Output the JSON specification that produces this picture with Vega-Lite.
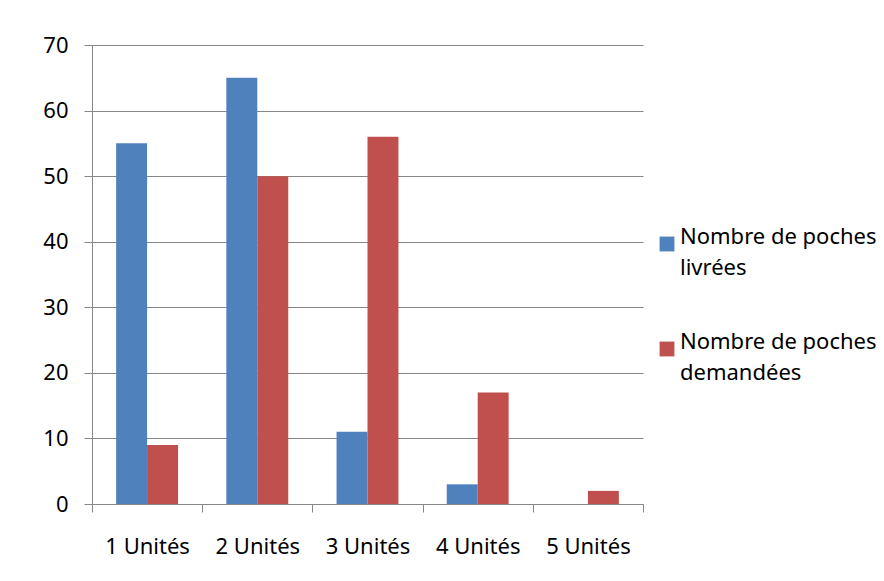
{
  "$schema": "https://vega.github.io/schema/vega-lite/v6.json",
  "width": 551,
  "height": 459,
  "autosize": {"type": "none"},
  "padding": {"left": 92, "top": 45, "right": 241, "bottom": 77},
  "background": "white",
  "data": {"values": [
    {"cat": "1 Unités", "serie": "Nombre de poches livrées", "v": 55},
    {"cat": "1 Unités", "serie": "Nombre de poches demandées", "v": 9},
    {"cat": "2 Unités", "serie": "Nombre de poches livrées", "v": 65},
    {"cat": "2 Unités", "serie": "Nombre de poches demandées", "v": 50},
    {"cat": "3 Unités", "serie": "Nombre de poches livrées", "v": 11},
    {"cat": "3 Unités", "serie": "Nombre de poches demandées", "v": 56},
    {"cat": "4 Unités", "serie": "Nombre de poches livrées", "v": 3},
    {"cat": "4 Unités", "serie": "Nombre de poches demandées", "v": 17},
    {"cat": "5 Unités", "serie": "Nombre de poches livrées", "v": 0},
    {"cat": "5 Unités", "serie": "Nombre de poches demandées", "v": 2}
  ]},
  "mark": {"type": "bar"},
  "encoding": {
    "x": {
      "field": "cat", "type": "nominal", "title": null,
      "scale": {"paddingInner": 0, "paddingOuter": 0},
      "axis": {"labelAngle": 0, "tickBand": "extent", "tickSize": 8, "labelPadding": 24, "domainColor": "#868686", "tickColor": "#868686", "labelFontSize": 22, "labelColor": "#000000", "labelFont": "Noto Sans"}
    },
    "xOffset": {
      "field": "serie", "type": "nominal",
      "sort": ["Nombre de poches livrées", "Nombre de poches demandées"],
      "scale": {"paddingInner": 0, "paddingOuter": 0.78}
    },
    "y": {
      "field": "v", "type": "quantitative", "title": null,
      "scale": {"domain": [0, 70], "nice": false},
      "axis": {"values": [0, 10, 20, 30, 40, 50, 60, 70], "tickSize": 8, "labelPadding": 16, "grid": true, "gridColor": "#868686", "domainColor": "#868686", "tickColor": "#868686", "labelFontSize": 22, "labelColor": "#000000", "labelFont": "Noto Sans"}
    },
    "color": {
      "field": "serie", "type": "nominal",
      "sort": ["Nombre de poches livrées", "Nombre de poches demandées"],
      "scale": {"range": ["#4F81BD", "#C0504D"]},
      "legend": {
        "title": null, "orient": "none", "legendX": 564, "legendY": 188,
        "symbolType": "square", "symbolSize": 220, "symbolStrokeWidth": 0,
        "labelFontSize": 22, "labelFont": "Noto Sans", "labelColor": "#000000",
        "labelExpr": "['Nombre de poches', split(datum.label, 'poches ')[1]]",
        "labelLimit": 300, "rowPadding": 52, "labelOffset": 2,
        "labelBaseline": "alphabetic"
      }
    }
  },
  "config": {"view": {"stroke": null}, "axis": {"domainWidth": 1, "gridWidth": 1}, "style": {"guide-label": {"lineHeight": 31}}}
}
